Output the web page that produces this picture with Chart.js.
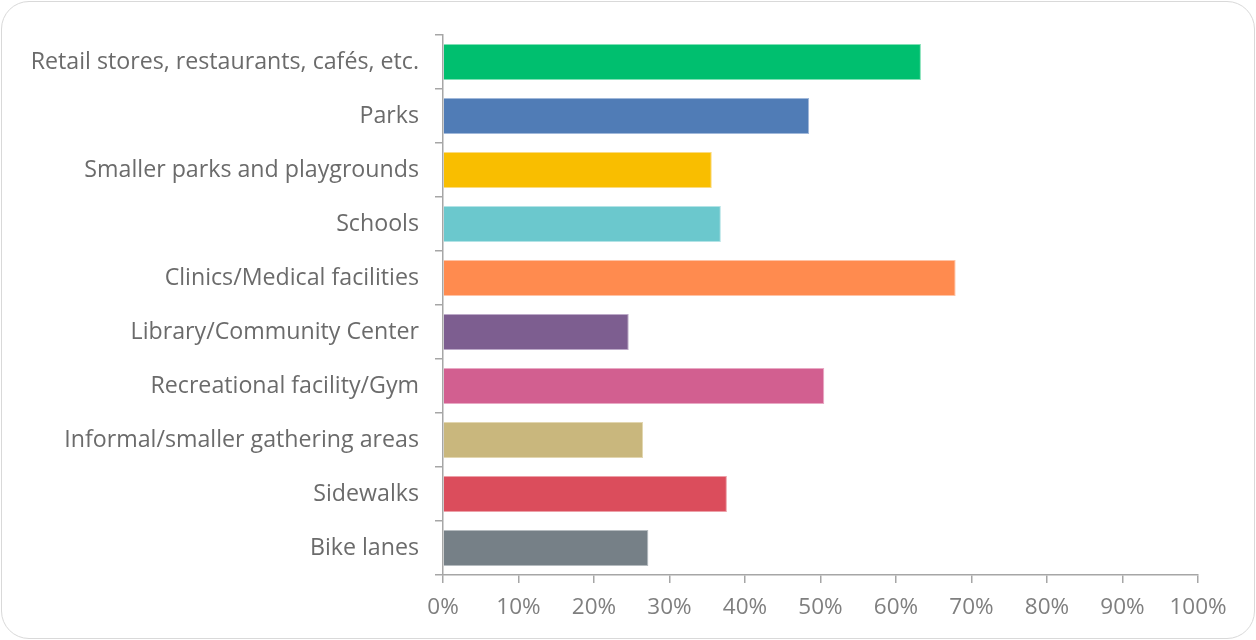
<!DOCTYPE html>
<html><head><meta charset="utf-8">
<script src="https://cdn.jsdelivr.net/npm/chart.js@4.4.1/dist/chart.umd.min.js"></script>
<style>
html,body{margin:0;padding:0;background:#fff;}
#wrap{position:absolute;left:1px;top:1px;width:1252px;height:636px;border:1px solid #d9d9d9;border-radius:28px;overflow:hidden;}
canvas{position:absolute;left:-2px;top:-2px;}
</style></head>
<body>
<div id="wrap"><canvas id="c" width="1256" height="640"></canvas></div>
<script>
const categories = [
  "Retail stores, restaurants, cafés, etc.",
  "Parks",
  "Smaller parks and playgrounds",
  "Schools",
  "Clinics/Medical facilities",
  "Library/Community Center",
  "Recreational facility/Gym",
  "Informal/smaller gathering areas",
  "Sidewalks",
  "Bike lanes"
];
const values = [63.3, 48.5, 35.6, 36.8, 67.9, 24.6, 50.5, 26.5, 37.6, 27.2];
const barColors = ["#00BF6F","#507CB6","#F9BE00","#6BC8CD","#FF8B4F","#7D5E90","#D25F90","#C9B77D","#DB4D5C","#768087"];
const edgeColors = ["#7fe0b5","#a0b8da","#fbdb80","#b3e3e6","#ffc3a5","#bca9c8","#e8a9c4","#e2d6b0","#eca0a8","#b5bbbf"];
const xTicks = [0,10,20,30,40,50,60,70,80,90,100];

const ctx = document.getElementById('c');
new Chart(ctx, {
  type: 'bar',
  data: {
    labels: categories,
    datasets: [{
      data: values,
      backgroundColor: barColors,
      borderColor: edgeColors,
      borderWidth: 1,
      barPercentage: 0.667,
      categoryPercentage: 1.0
    }]
  },
  options: {
    indexAxis: 'y',
    responsive: false,
    animation: false,
    layout: { padding: { left: 0, right: 58, top: 35, bottom: 0 } },
    plugins: { legend: { display: false }, tooltip: { enabled: false } },
    scales: {
      x: {
        min: 0, max: 100,
        afterBuildTicks: (s) => { s.ticks = xTicks.map(v => ({ value: v })); },
        afterFit: (s) => { s.height = 65; },
        grid: { drawOnChartArea: false, drawTicks: true, tickLength: 8, color: '#a6a6a6', lineWidth: 1.5 },
        border: { color: '#a6a6a6', width: 1.5 },
        ticks: {
          color: '#7f7f7f', padding: 11,
          font: { family: '"Open Sans", Lato, sans-serif', size: 22.5 },
          callback: (v) => v + '%'
        }
      },
      y: {
        afterFit: (s) => { s.width = 443; },
        grid: { drawOnChartArea: false, drawTicks: true, tickLength: 8, color: '#a6a6a6', lineWidth: 1.5, offset: true },
        border: { color: '#a6a6a6', width: 1.5 },
        ticks: {
          color: '#6b6b6b', padding: 16,
          font: { family: '"Open Sans", Lato, sans-serif', size: 23.2 }
        }
      }
    }
  }
});
</script>
</body></html>
